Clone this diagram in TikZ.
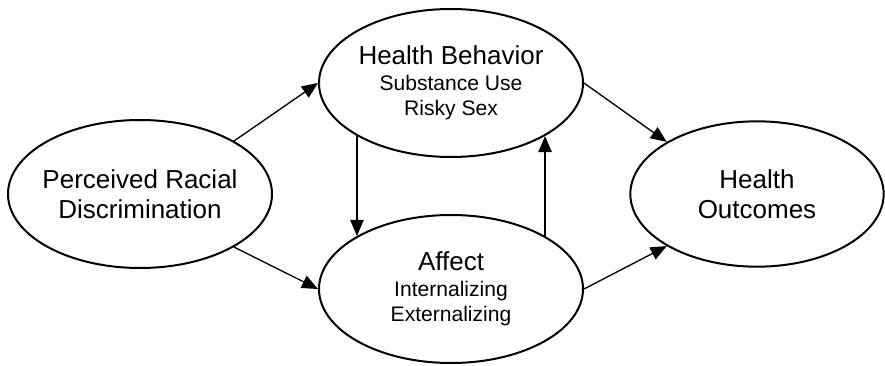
\documentclass[tikz,border=0pt]{standalone}
\usepackage{fontspec}
\setmainfont{Liberation Sans}
\usetikzlibrary{shapes.geometric,arrows.meta}
\newcommand\subtxt{\fontsize{15.8}{19}\selectfont}

\begin{document}
\begin{tikzpicture}[x=0.75pt,y=0.75pt,
  oval/.style={draw,ellipse,line width=1.5pt,minimum width=198pt,minimum height=111pt,
    inner xsep=-20pt,inner ysep=0pt,align=center,font=\fontsize{19.5}{22.5}\selectfont},
  arr/.style={line width=1pt,-{Triangle[length=12pt,width=10pt]}}]
\useasboundingbox (0,0) rectangle (885,365);

\node [oval] (prd) at(140,171){Perceived Racial\\Discrimination};
\node [oval] (hb) at(451,282){Health Behavior\\[-3.5pt]{\subtxt Substance Use}\\[-3.5pt]{\subtxt Risky Sex}};
\node [oval] (aff) at(451,76){Affect\\[-3.5pt]{\subtxt Internalizing}\\[-3.5pt]{\subtxt Externalizing}};
\node [oval,minimum width=190pt,minimum height=109pt] (ho) at(757,171){Health\\Outcomes};

\draw[arr](prd.north east) -- (hb.west);
\draw[arr](prd.south east) -- (aff.west);
\draw[arr](hb.south west) -- (aff.north west);
\draw[arr](aff.north east) -- (hb.south east);
\draw[arr](hb.east) -- (ho.north west);
\draw[arr](aff.east) -- (ho.south west);
\end{tikzpicture}
\end{document}
